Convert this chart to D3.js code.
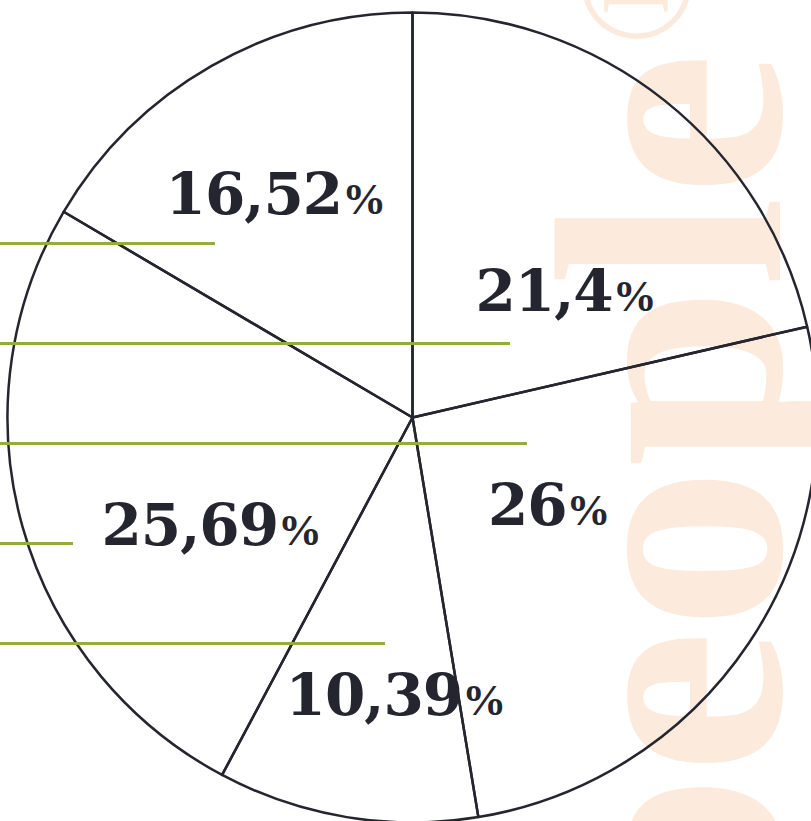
<!DOCTYPE html>
<html><head><meta charset="utf-8">
<script src="https://cdn.jsdelivr.net/npm/d3@7"></script>
<style>html,body{margin:0;padding:0;background:#fff;overflow:hidden}</style>
</head><body>
<svg id="chart" width="811" height="821"></svg>
<script>
// ---- data ----
const categories = ["s1", "s2", "s3", "s4", "s5"];
const values = [21.4, 26, 10.39, 25.69, 16.52];
const valueLabels = ["21,4", "26", "10,39", "25,69", "16,52"];
const watermarkText = "people";
// ---- layout (decoration / label placement) ----
const labelRadius = [187, 174, 298, 238, 245];
const labelAngle = [55.2, 128.2, 183.2, 237.5, 326.1];
const guideRows = [0, 1, 2, 3, 4];
const guideEnds = [215, 510, 527, 73, 385];

const W = 811, H = 821;
const cx = 412.5, cy = 417.5, R = 405;
const ink = "#25252f", green = "#93ad3c", peach = "#fcebdc";

const svg = d3.select("#chart");

// watermark
svg.append("text")
  .attr("transform", "translate(780,52) rotate(-90)")
  .attr("text-anchor", "end")
  .attr("font-family", "Liberation Serif")
  .attr("font-weight", "bold")
  .attr("font-size", 325)
  .attr("fill", peach)
  .text(watermarkText);
svg.append("text")
  .attr("transform", "translate(635,-15) rotate(-90)")
  .attr("text-anchor", "middle")
  .attr("dominant-baseline", "central")
  .attr("font-family", "Liberation Serif")
  .attr("font-size", 160)
  .attr("fill", peach)
  .text("®");

// pie
const pie = d3.pie().sort(null).value(d => d);
const arcs = pie(values);
const arc = d3.arc().innerRadius(0).outerRadius(R);
const g = svg.append("g").attr("transform", `translate(${cx},${cy})`);
g.selectAll("path.slice").data(arcs).join("path")
  .attr("class", "slice")
  .attr("d", arc)
  .attr("fill", "none")
  .attr("stroke", ink)
  .attr("stroke-width", 2.5)
  .attr("stroke-linejoin", "round");

// labels
const lbl = g.selectAll("text.lbl").data(arcs).join("text")
  .attr("class", "lbl")
  .attr("text-anchor", "middle")
  .attr("fill", ink)
  .attr("x", (d, i) => labelRadius[i] * Math.sin(labelAngle[i] * Math.PI / 180))
  .attr("y", (d, i) => -labelRadius[i] * Math.cos(labelAngle[i] * Math.PI / 180));
lbl.append("tspan")
  .attr("font-family", "DejaVu Serif")
  .attr("font-weight", "bold")
  .attr("font-size", 58)
  .attr("letter-spacing", -1)
  .text((d, i) => valueLabels[i]);
lbl.append("tspan")
  .attr("font-family", "Liberation Serif")
  .attr("font-weight", "bold")
  .attr("font-size", 44)
  .text("%");

// green guide lines
const yGuide = d3.scaleLinear().domain([0, 4]).range([243.5, 643.5]);
svg.selectAll("line.guide").data(guideRows).join("line")
  .attr("class", "guide")
  .attr("x1", 0)
  .attr("x2", (d, i) => guideEnds[i])
  .attr("y1", d => yGuide(d))
  .attr("y2", d => yGuide(d))
  .attr("stroke", green)
  .attr("stroke-width", 3);
</script>
</body></html>
